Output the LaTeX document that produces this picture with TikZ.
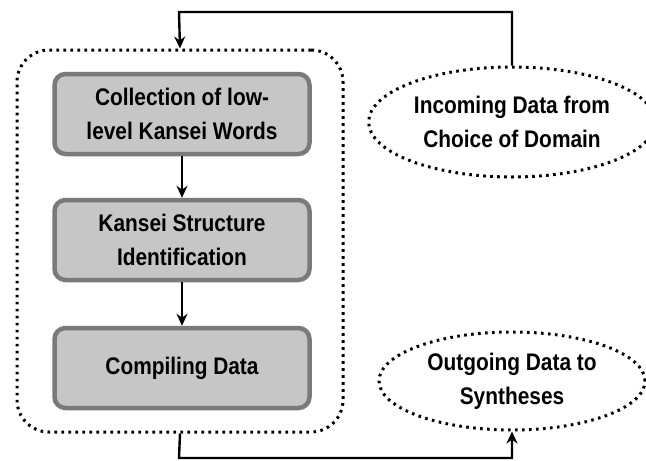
\documentclass[tikz,border=0pt]{standalone}
\usepackage{fontspec}
\setmainfont{Liberation Sans}
\newfontfamily\kfont[FakeStretch=0.87]{Liberation Sans}
\usetikzlibrary{arrows.meta,positioning,calc,shapes}
\definecolor{BoxFill}{HTML}{C6C6C6}
\definecolor{BoxEdge}{HTML}{7A7A7A}
\tikzset{
	kfont/.style={font=\kfont\bfseries\fontsize{24}{34}\selectfont},
	kbox/.style={draw=BoxEdge, fill=BoxFill, line width=4.5pt, rounded corners=11pt,
		minimum width=255pt, minimum height=80pt, align=center, kfont},
	dots/.style={draw, line width=3pt, dash pattern=on 2.6pt off 4.4pt},
	procbox/.style={dots, rounded corners=32pt,
		minimum width=326pt, minimum height=382pt},
	dataell/.style={ellipse, dots, align=center, minimum width=266pt, kfont},
	flow/.style={line width=2.4pt, -{Stealth[length=12pt,width=11pt]}},
}
\begin{document}
\begin{tikzpicture}[x=1pt, y=-1pt]
	\useasboundingbox[fill=white] (0,0) rectangle (646,461);
	
	\node[procbox] (proc) at (180,241) {};
	%
	\node[kbox] (collect) at (182,114) {Collection of low-\\level Kansei Words};
	\node[kbox] (struct) at (182,240) {Kansei Structure\\Identification};
	\node[kbox] (compile) at (182,368) {Compiling Data};
	%
	\node[dataell, minimum height=110pt] (incoming) at (512,122) {Incoming Data from\\Choice of Domain};
	\node[dataell, minimum height=98pt] (outgoing) at (512,381) {Outgoing Data to\\Syntheses};
	%
	\coordinate (topturn) at (179,12);
	\coordinate (botturn) at (179,458);
	
	\draw[flow] (collect) -- (struct);
	\draw[flow] (struct) -- (compile);
	%
	\draw[flow] (incoming.north) |- (topturn) -- (proc.north);
	\draw[flow] (proc.south) -- (botturn) -| (outgoing.south);
\end{tikzpicture}
\end{document}
